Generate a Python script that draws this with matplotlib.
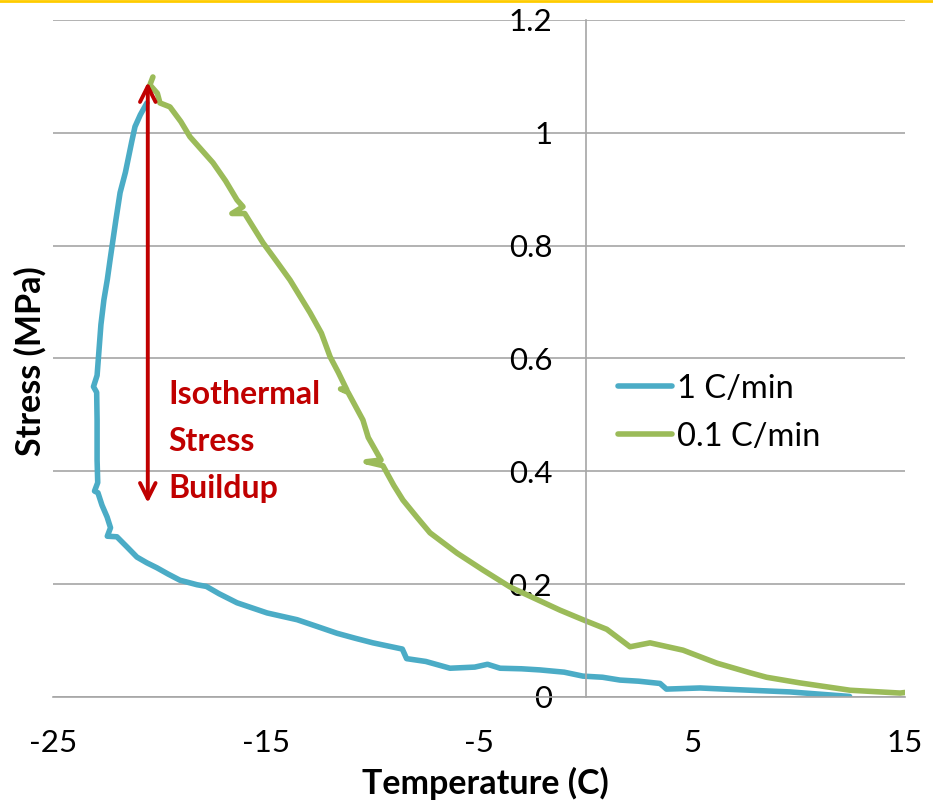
import matplotlib
matplotlib.use('Agg')
import matplotlib.pyplot as plt
from matplotlib.lines import Line2D

plt.rcParams['font.family'] = ['Lato', 'DejaVu Sans']

# 1 C/min run, traced from the peak down and out to the right
blue_temp = [-20.59, -20.90, -21.15, -21.30, -21.48, -21.60, -21.85, -22.05, -22.32, -22.45,
             -22.61, -22.75, -22.84, -22.93, -23.10, -22.95, -22.93, -22.93, -22.90, -23.05,
             -22.89, -22.70, -22.46, -22.30, -22.45, -22.00, -21.50, -21.06, -20.60, -20.12,
             -19.60, -19.04, -18.24, -17.80, -17.20, -16.36, -14.95, -13.54, -12.60, -11.67,
             -10.80, -9.98, -8.60, -8.40, -7.50, -6.36, -5.20, -4.60, -4.01, -3.00,
             -2.14, -1.00, -0.12, 0.80, 1.62, 2.50, 3.50, 3.80, 5.38, 6.50,
             7.72, 9.60, 11.00, 12.40]
blue_stress = [1.053, 1.032, 1.011, 0.985, 0.952, 0.930, 0.894, 0.845, 0.775, 0.740,
               0.704, 0.660, 0.615, 0.570, 0.550, 0.540, 0.491, 0.420, 0.380, 0.365,
               0.362, 0.340, 0.319, 0.300, 0.285, 0.284, 0.265, 0.248, 0.238, 0.229,
               0.218, 0.207, 0.199, 0.196, 0.183, 0.167, 0.149, 0.137, 0.125, 0.113,
               0.104, 0.096, 0.085, 0.068, 0.063, 0.051, 0.053, 0.058, 0.051, 0.050,
               0.048, 0.044, 0.037, 0.035, 0.030, 0.028, 0.024, 0.014, 0.016, 0.014,
               0.012, 0.009, 0.005, 0.001]

# 0.1 C/min run
green_temp = [-20.31, -20.45, -20.10, -19.98, -19.51, -19.00, -18.57, -17.49, -16.90, -16.36,
              -16.08, -16.60, -16.00, -15.14, -14.50, -13.87, -12.93, -12.40, -11.99, -11.60,
              -11.20, -11.50, -11.15, -10.45, -10.20, -9.60, -10.30, -9.51, -9.00, -8.57,
              -7.90, -7.30, -6.03, -4.81, -3.54, -2.40, -1.20, -0.12, 1.00, 2.09,
              3.03, 4.58, 6.17, 7.72, 8.50, 10.07, 12.42, 14.77, 15.00]
green_stress = [1.099, 1.085, 1.070, 1.053, 1.046, 1.020, 0.993, 0.947, 0.915, 0.881,
                0.869, 0.857, 0.857, 0.805, 0.772, 0.739, 0.681, 0.645, 0.603, 0.575,
                0.544, 0.546, 0.540, 0.491, 0.460, 0.420, 0.417, 0.410, 0.375, 0.349,
                0.318, 0.291, 0.255, 0.225, 0.195, 0.175, 0.154, 0.137, 0.120, 0.089,
                0.096, 0.083, 0.060, 0.043, 0.035, 0.025, 0.012, 0.007, 0.008]

series_labels = ['1 C/min', '0.1 C/min']
x_ticks = [-25, -15, -5, 5, 15]
y_ticks = [0, 0.2, 0.4, 0.6, 0.8, 1, 1.2]
y_tick_labels = ['0', '0.2', '0.4', '0.6', '0.8', '1', '1.2']

arrow_temp = -20.55
arrow_top, arrow_bottom = 1.09, 0.344

fig = plt.figure(figsize=(9.33, 8.02), dpi=100)
ax = fig.add_axes([53 / 933, 105 / 802, 852 / 933, 677 / 802])

grid_col = '#A6A6A6'
ax.plot(blue_temp, blue_stress, color='#4BACC6', lw=4, label=series_labels[0],
        solid_joinstyle='round', solid_capstyle='round')
ax.plot(green_temp, green_stress, color='#9BBB59', lw=4, label=series_labels[1],
        solid_joinstyle='round', solid_capstyle='round')

ax.set_xlim(-25, 15)
ax.set_ylim(0, 1.2)
ax.set_xticks(x_ticks)
ax.set_xticklabels([str(t) for t in x_ticks])
ax.set_yticks(y_ticks)
ax.set_yticklabels(y_tick_labels)
ax.yaxis.grid(True, color=grid_col, lw=1.2)
ax.set_axisbelow(True)

for side in ['top', 'right']:
    ax.spines[side].set_visible(False)
ax.spines['left'].set_position(('data', 0))
ax.spines['left'].set_color(grid_col)
ax.spines['left'].set_linewidth(1.2)
ax.spines['bottom'].set_color(grid_col)
ax.spines['bottom'].set_linewidth(1.2)
ax.tick_params(axis='y', length=0, pad=24, labelsize=22.5)
ax.tick_params(axis='x', length=0, pad=23, labelsize=22.5)

# isothermal buildup arrow and note
ax.annotate('', xy=(arrow_temp, arrow_top), xytext=(arrow_temp, arrow_bottom),
            arrowprops=dict(arrowstyle='<->', color='#C00000', lw=2.8, mutation_scale=28,
                            shrinkA=0, shrinkB=0))
ax.text(-19.6, 0.452, 'Isothermal\nStress\nBuildup', color='#C00000', fontsize=23,
        fontweight='bold', ha='left', va='center', linespacing=1.75)

ax.legend(loc='center left', bbox_to_anchor=(0.663, 0.42), frameon=False, fontsize=23.5,
          handlelength=1.65, handletextpad=0.15, labelspacing=0.56, borderpad=0,
          borderaxespad=0)

fig.text(485 / 933, 1 - 783 / 802, 'Temperature (C)', fontsize=24.5, fontweight='bold',
         ha='center', va='center')
fig.text(30 / 933, 1 - 361 / 802, 'Stress (MPa)', fontsize=24.5, fontweight='bold',
         rotation=90, ha='center', va='center')

fig.add_artist(Line2D([0, 1], [1 - 1.2 / 802, 1 - 1.2 / 802], transform=fig.transFigure,
                      color='#FFCC00', lw=2.0))

plt.savefig('out.png', dpi=100)
